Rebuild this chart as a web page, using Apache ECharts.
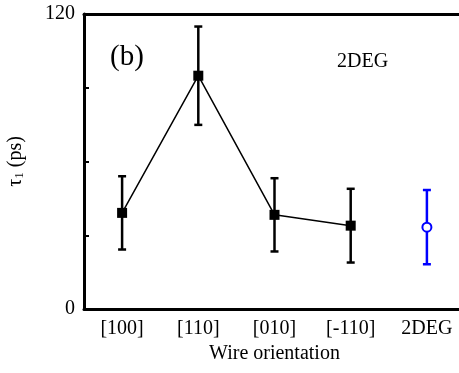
<!DOCTYPE html>
<html><head><meta charset="utf-8">
<script src="https://cdn.jsdelivr.net/npm/echarts@6/dist/echarts.min.js"></script>
<style>html,body{margin:0;padding:0;background:#fff}#c{width:459px;height:373px}</style>
</head><body><div id="c"></div>
<script>
const categories = ['[100]', '[110]', '[010]', '[-110]', '2DEG'];
const wireValues = [39.1, 94.9, 38.3, 33.9, null];
const wireErrors = [14.9, 20.0, 14.9, 15.0, null];
const degValues = [null, null, null, null, 33.3];
const degErrors = [null, null, null, null, 15.1];
const yTickLabels = ['0', '120'];

const FONT = 'Liberation Serif';
const chart = echarts.init(document.getElementById('c'));

function errData(vals, errs) {
  const out = [];
  vals.forEach((v, i) => { if (v != null) out.push([i, v - errs[i], v + errs[i]]); });
  return out;
}
function errRender(color) {
  return function (params, api) {
    const x = api.value(0);
    const lo = api.coord([x, api.value(1)]);
    const hi = api.coord([x, api.value(2)]);
    const w = 4;
    const style = { stroke: color, lineWidth: 2.5 };
    return {
      type: 'group',
      children: [
        { type: 'line', shape: { x1: lo[0], y1: lo[1], x2: hi[0], y2: hi[1] }, style },
        { type: 'line', shape: { x1: lo[0] - w, y1: lo[1], x2: lo[0] + w, y2: lo[1] }, style },
        { type: 'line', shape: { x1: hi[0] - w, y1: hi[1], x2: hi[0] + w, y2: hi[1] }, style }
      ]
    };
  };
}

chart.setOption({
  animation: false,
  backgroundColor: '#fff',
  textStyle: { fontFamily: FONT },
  grid: { left: 84, top: 14, width: 381, height: 295, containLabel: false, outerBoundsMode: 'none' },
  xAxis: [{
    type: 'category', data: categories, position: 'bottom',
    name: 'Wire orientation', nameLocation: 'middle', nameGap: 35,
    nameTextStyle: { fontFamily: FONT, fontSize: 20, color: '#000' },
    axisLine: { lineStyle: { color: '#000', width: 3 } },
    axisTick: { inside: true, alignWithLabel: true, length: 5, lineStyle: { width: 2, color: '#000' } },
    axisLabel: { fontFamily: FONT, fontSize: 20, color: '#000', margin: 10 },
    splitLine: { show: false }
  }, {
    type: 'category', data: categories, position: 'top',
    axisLine: { lineStyle: { color: '#000', width: 3 } },
    axisTick: { inside: true, alignWithLabel: true, length: 5, lineStyle: { width: 2, color: '#000' } },
    axisLabel: { show: false },
    splitLine: { show: false }
  }],
  yAxis: {
    type: 'value', min: 0, max: 120, interval: 30,
    name: '{a|τ}{s|1}{a| (ps)}', nameLocation: 'middle', nameGap: 58, nameRotate: 90,
    nameTextStyle: {
      color: '#000',
      rich: {
        a: { fontFamily: FONT, fontSize: 20, color: '#000' },
        s: { fontFamily: FONT, fontSize: 13, color: '#000', verticalAlign: 'bottom', padding: [8, 0, 0, 0] }
      }
    },
    axisLine: { show: true, lineStyle: { color: '#000', width: 3 } },
    axisTick: { show: true, inside: true, length: 5, lineStyle: { width: 2, color: '#000' } },
    axisLabel: {
      fontFamily: FONT, fontSize: 20, color: '#000', margin: 9,
      formatter: v => (v === 0 ? yTickLabels[0] : v === 120 ? yTickLabels[1] : '')
    },
    splitLine: { show: false }
  },
  graphic: [
    { type: 'text', left: 110, top: 43, style: { text: '(b)', fontFamily: FONT, fontSize: 29, fill: '#000' } },
    { type: 'text', left: 337, top: 52, style: { text: '2DEG', fontFamily: FONT, fontSize: 20, fill: '#000' } }
  ],
  series: [
    { type: 'custom', renderItem: errRender('#000'), data: errData(wireValues, wireErrors), z: 2 },
    { type: 'custom', renderItem: errRender('#0000ff'), data: errData(degValues, degErrors), z: 2 },
    {
      type: 'line', data: wireValues, connectNulls: false,
      symbol: 'rect', symbolSize: 10,
      lineStyle: { color: '#000', width: 1.5 },
      itemStyle: { color: '#000' }, z: 3
    },
    {
      type: 'line', data: degValues,
      symbol: 'circle', symbolSize: 9,
      lineStyle: { width: 0 },
      itemStyle: { color: '#fff', borderColor: '#0000ff', borderWidth: 2 }, z: 4
    }
  ]
});
</script></body></html>
